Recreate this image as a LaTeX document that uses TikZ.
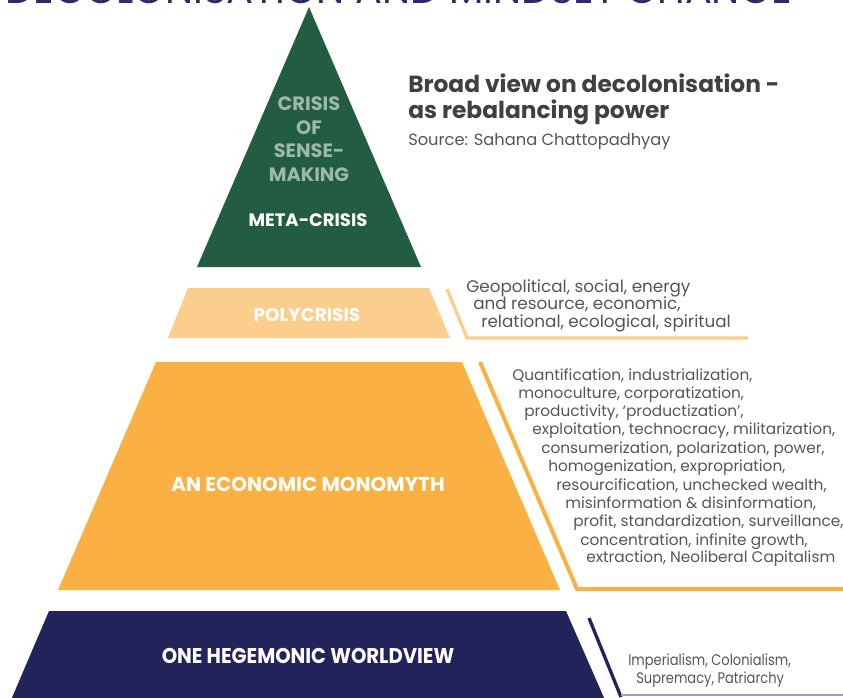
\documentclass[tikz,border=0pt]{standalone}
\usepackage{fontspec}
\setmainfont{Poppins}
\definecolor{metagreen}{HTML}{225C43}
\definecolor{sensegreen}{HTML}{9DB8A8}
\definecolor{polylight}{HTML}{FCCE8E}
\definecolor{monoorange}{HTML}{FAB042}
\definecolor{hegenavy}{HTML}{22235A}
\definecolor{titlenavy}{HTML}{2A2B6A}
\definecolor{headgray}{HTML}{404040}
\definecolor{listgray}{HTML}{555555}
\definecolor{baselavender}{HTML}{9C9CC4}

\begin{document}
\begin{tikzpicture}[x=0.75pt, y=-0.75pt,
    layer label/.style={text=white, font=\bfseries\fontsize{13.5}{16}\selectfont},
    crisis list/.style={anchor=west, inner sep=0pt, text=listgray,
      text height=1.5ex, text depth=.25ex, font=\fontsize{11.5}{14}\selectfont}]
  \useasboundingbox (0,0) rectangle (843,697);

  % page title, cut off by the top edge
  \node[anchor=base east, inner sep=0pt, text=titlenavy,
    font=\fontsize{30}{36}\selectfont] (page title) at (792,3)
    {DECOLONISATION AND MINDSET CHANGE};

  % the four layers of the pyramid
  \fill[metagreen]  (309,7) -- (421,267) -- (197,267) -- cycle;
  \fill[polylight]  (188,288) -- (429,288) -- (450,338) -- (168,338) -- cycle;
  \fill[monoorange] (156,362) -- (462,362) -- (560,590) -- (58,590) -- cycle;
  \fill[hegenavy]   (49,611) -- (566,611) -- (605,700) -- (11,700) -- cycle;

  % brackets beside the layers
  \draw[polylight, line width=2.5pt] (447,289) -- (467,338) -- (748,338);
  \draw[monoorange, line width=3pt] (480,362) -- (577,589) -- (845,589);
  \draw[hegenavy, line width=2.5pt] (589,618) -- (621,697);
  \draw[baselavender, line width=1.2pt] (621,695) -- (845,695);

  % heading
  \node[anchor=base west, inner sep=0pt, text=headgray,
    font=\bfseries\fontsize{17.5}{20}\selectfont] (heading 1) at (408,92)
    {Broad view on decolonisation -};
  \node[anchor=base west, inner sep=0pt, text=headgray,
    font=\bfseries\fontsize{17.5}{20}\selectfont] (heading 2) at (408,118)
    {as rebalancing power};
  \node[anchor=base west, inner sep=0pt, text=listgray,
    font=\fontsize{12.2}{14}\selectfont] (source) at (408,145)
    {Source: Sahana Chattopadhyay};

  % labels inside the layers
  \node[align=center, text=sensegreen,
    font=\bfseries\fontsize{14.5}{17.6}\selectfont] (sense making) at (309,139)
    {CRISIS\\OF\\SENSE-\\MAKING};
  \node[layer label] (meta crisis) at (308,220) {META-CRISIS};
  \node[layer label, font=\bfseries\fontsize{13.8}{16}\selectfont] (polycrisis) at (307,315) {POLYCRISIS};
  \node[layer label, font=\bfseries\fontsize{15}{18}\selectfont] (monomyth) at (308,484) {AN ECONOMIC MONOMYTH};
  \node[layer label, font=\bfseries\fontsize{16}{18}\selectfont] (worldview) at (308,656)
    {\scalebox{0.92}[1]{ONE HEGEMONIC WORLDVIEW}};

  % polycrisis list
  \node[crisis list, font=\fontsize{12.6}{15}\selectfont] (poly 1) at (466,288) {Geopolitical, social, energy};
  \node[crisis list, font=\fontsize{12.6}{15}\selectfont] (poly 2) at (473,305) {and resource, economic,};
  \node[crisis list, font=\fontsize{12.6}{15}\selectfont] (poly 3) at (481,323) {relational, ecological, spiritual};

  % monomyth list
  \node[crisis list] (mono 1)  at (512,376) {Quantification, industrialization,};
  \node[crisis list] (mono 2)  at (518,394) {monoculture, corporatization,};
  \node[crisis list] (mono 3)  at (524,412) {productivity, ‘productization’,};
  \node[crisis list] (mono 4)  at (532,430) {exploitation, technocracy, militarization,};
  \node[crisis list] (mono 5)  at (541,449) {consumerization, polarization, power,};
  \node[crisis list] (mono 6)  at (548,467) {homogenization, expropriation,};
  \node[crisis list] (mono 7)  at (556,486) {resourcification, unchecked wealth,};
  \node[crisis list] (mono 8)  at (565,504) {misinformation \& disinformation,};
  \node[crisis list] (mono 9)  at (573,522) {profit, standardization, surveillance,};
  \node[crisis list] (mono 10) at (580,541) {concentration, infinite growth,};
  \node[crisis list] (mono 11) at (586,558) {extraction, Neoliberal Capitalism};

  % worldview list
  \node[crisis list] (hege 1) at (628,661) {\scalebox{0.85}[1]{Imperialism, Colonialism,}};
  \node[crisis list] (hege 2) at (636,679) {\scalebox{0.85}[1]{Supremacy, Patriarchy}};
\end{tikzpicture}
\end{document}
